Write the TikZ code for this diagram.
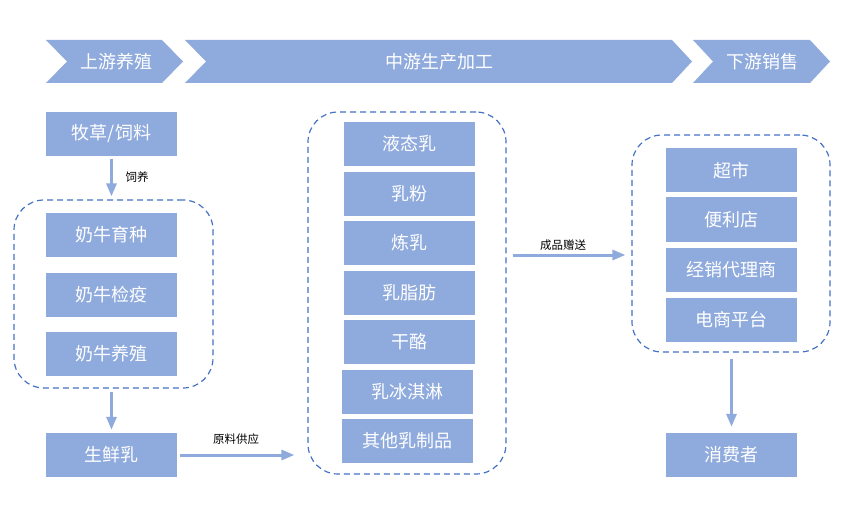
\documentclass[tikz,border=0pt]{standalone}
\usepackage{fontspec}
\setmainfont{Noto Sans CJK SC}
\usetikzlibrary{arrows.meta}
\definecolor{boxblue}{RGB}{143,170,220}
\definecolor{dashblue}{RGB}{68,114,196}
\tikzset{
  chev/.style={fill=boxblue, draw=none},
  chevtext/.style={text=white, font=\fontsize{18}{20}\selectfont, inner sep=0pt},
  pbox/.style={fill=boxblue, draw=none, text=white, minimum width=131pt, minimum height=44pt, inner sep=0pt, font=\fontsize{18}{20}\selectfont},
  group/.style={draw=dashblue, line width=1.2pt, dash pattern=on 6pt off 4pt, rounded corners=30pt, inner sep=0pt},
  flow/.style={draw=boxblue, line width=3pt, -{Triangle[length=13pt,width=10pt]}},
  lbl/.style={font=\fontsize{11.5}{13}\selectfont, inner sep=0pt, text=black}
}
\begin{document}
\begin{tikzpicture}[x=1pt,y=-1pt]
\useasboundingbox (0,0) rectangle (851,513);
% chevrons
\fill[chev] (46,40) -- (162,40) -- (183,61.5) -- (162,83) -- (46,83) -- (67,61.5) -- cycle;
\fill[chev] (185,40) -- (672,40) -- (692,61.5) -- (672,83) -- (185,83) -- (206,61.5) -- cycle;
\fill[chev] (693,40) -- (810,40) -- (830,61.5) -- (810,83) -- (693,83) -- (713,61.5) -- cycle;
\node[chevtext] (up) at (116,61.5) {上游养殖};
\node[chevtext] (mid) at (439,61.5) {中游生产加工};
\node[chevtext] (down) at (762,61.5) {下游销售};
% groups
\node[group, minimum width=199pt, minimum height=188pt] (leftc) at (113.5,294) {};
\node[group, minimum width=198pt, minimum height=362pt] (midc) at (407,293) {};
\node[group, minimum width=198pt, minimum height=217pt] (rightc) at (731,243.5) {};
% left column
\node[pbox] (feed) at (111.5,134) {牧草/饲料};
\node[pbox] (breed) at (111.5,235) {奶牛育种};
\node[pbox] (quar) at (111.5,294.5) {奶牛检疫};
\node[pbox] (raise) at (111.5,353.5) {奶牛养殖};
\node[pbox] (raw) at (111.5,455) {生鲜乳};
% middle column
\node[pbox] (m1) at (409,144) {液态乳};
\node[pbox] (m2) at (409,194) {乳粉};
\node[pbox] (m3) at (409,243) {炼乳};
\node[pbox] (m4) at (409,293) {乳脂肪};
\node[pbox] (m5) at (409,342) {干酪};
\node[pbox] (m6) at (407,392) {乳冰淇淋};
\node[pbox] (m7) at (407,441) {其他乳制品};
% right column
\node[pbox] (r1) at (731.5,170.5) {超市};
\node[pbox] (r2) at (731.5,219.5) {便利店};
\node[pbox] (r3) at (731.5,269.5) {经销代理商};
\node[pbox] (r4) at (731.5,319.5) {电商平台};
\node[pbox] (cons) at (731.5,455) {消费者};
% arrows
\draw[flow, shorten <=3pt, shorten >=3pt] (feed.south) -- (feed.south |- leftc.north);
\node[lbl] (l1) at (137,177) {饲养};
\draw[flow, shorten <=3pt, shorten >=3pt] (leftc.south -| raw.north) -- (raw.north);
\draw[flow, shorten <=3pt, shorten >=13pt] (raw.east) -- (raw.east -| midc.west);
\node[lbl] (l2) at (236,439) {原料供应};
\draw[flow, shorten <=6pt, shorten >=6pt] ([yshift=-11.5pt]rightc.west -| midc.east) -- ([yshift=-11.5pt]rightc.west);
\node[lbl] (l3) at (563,245) {成品赠送};
\draw[flow, shorten <=6pt, shorten >=6pt] (rightc.south -| cons.north) -- (cons.north);
\end{tikzpicture}
\end{document}
